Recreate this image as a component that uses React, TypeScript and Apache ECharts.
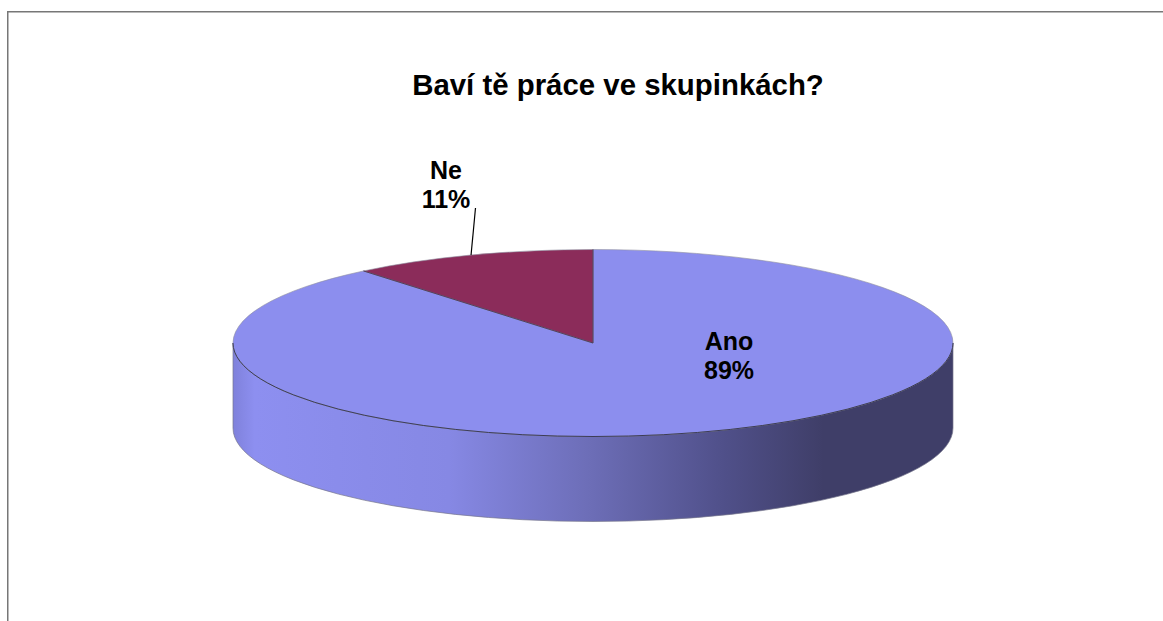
import React, { useEffect, useRef } from "react";
import * as echarts from "echarts";

const categories = ["Ano", "Ne"];
const values = [89, 11];
const sliceColors = ["#8C8EEE", "#8B2C5A"];
const titleText = "Baví tě práce ve skupinkách?";

const CX = 593;
const CY = 343;
const RX = 360;
const RY = 93.5;
const DEPTH = 85;
const FONT = '"Liberation Sans", Arial, sans-serif';
const total = values.reduce((a, b) => a + b, 0);

const pt = (deg: number, dy = 0) => {
  const r = (deg * Math.PI) / 180;
  return [CX + RX * Math.sin(r), CY + dy - RY * Math.cos(r)];
};

const labelSpots: Record<string, { x: number; y: number; leaderEnd?: number[] }> = {
  Ano: { x: 729, y: 355 },
  Ne: { x: 446, y: 184, leaderEnd: [475.5, 208] },
};

function renderItem(params: any) {
  const i = params.dataIndex;
  const start = (values.slice(0, i).reduce((a, b) => a + b, 0) / total) * 360;
  const end = start + (values[i] / total) * 360;
  const children: any[] = [];

  // Side wall: only the part of the slice on the front half of the ellipse.
  const fs = Math.max(start, 90);
  const fe = Math.min(end, 270);
  const hasFront = fe > fs;
  if (hasFront) {
    const a = pt(fs);
    const b = pt(fe);
    const c = pt(fe, DEPTH);
    const d = pt(fs, DEPTH);
    children.push({
      type: "path",
      shape: {
        pathData: `M${a[0]} ${a[1]}A${RX} ${RY} 0 0 1 ${b[0]} ${b[1]}L${c[0]} ${c[1]}A${RX} ${RY} 0 0 0 ${d[0]} ${d[1]}Z`,
      },
      style: {
        fill: new echarts.graphic.LinearGradient(0, 0, 1, 0, [
          { offset: 0, color: "#7F81DB" },
          { offset: 0.03, color: "#8D8FF0" },
          { offset: 0.3, color: "#8688E4" },
          { offset: 0.5, color: "#6C6DB6" },
          { offset: 0.68, color: "#50508A" },
          { offset: 0.82, color: "#3F3E68" },
          { offset: 1, color: "#3F3E68" },
        ]),
        stroke: "#77778c",
        lineWidth: 0.7,
      },
    });
  }

  // Top face.
  const s = pt(start);
  const e = pt(end);
  const large = end - start > 180 ? 1 : 0;
  children.push({
    type: "path",
    shape: {
      pathData: `M${CX} ${CY}L${s[0]} ${s[1]}A${RX} ${RY} 0 ${large} 1 ${e[0]} ${e[1]}Z`,
    },
    style: { fill: sliceColors[i], stroke: "#8f8fa0", lineWidth: 0.6 },
  });
  if (hasFront) {
    const a = pt(fs);
    const b = pt(fe);
    children.push({
      type: "path",
      shape: { pathData: `M${a[0]} ${a[1]}A${RX} ${RY} 0 0 1 ${b[0]} ${b[1]}` },
      style: { fill: "none", stroke: "#33334d", lineWidth: 0.9 },
    });
  }
  // Dark radial seams between slices.
  if (start > 0) {
    children.push({
      type: "polyline",
      shape: { points: [s, [CX, CY], e] },
      style: { fill: "none", stroke: "#3f3050", lineWidth: 0.8 },
    });
  }

  const spot = labelSpots[categories[i]];
  if (spot.leaderEnd) {
    const m = pt((start + end) / 2);
    children.push({
      type: "line",
      shape: { x1: m[0], y1: m[1], x2: spot.leaderEnd[0], y2: spot.leaderEnd[1] },
      style: { stroke: "#000", lineWidth: 1.2 },
    });
  }
  children.push({
    type: "text",
    x: spot.x,
    y: spot.y,
    style: {
      text: `${categories[i]}\n${Math.round((values[i] / total) * 100)}%`,
      font: `bold 25px ${FONT}`,
      fill: "#000",
      align: "center",
      verticalAlign: "middle",
      lineHeight: 29,
    },
  });
  return { type: "group", children };
}

export default function App() {
  const ref = useRef<HTMLDivElement>(null);
  useEffect(() => {
    document.body.style.margin = "0";
    const chart = echarts.init(ref.current!, undefined, { renderer: "svg" });
    chart.setOption({
      animation: false,
      backgroundColor: "#fff",
      title: {
        text: titleText,
        left: 613,
        top: 65,
        textAlign: "center",
        textStyle: { fontFamily: FONT, fontWeight: "bold", fontSize: 29.4, color: "#000" },
      },
      graphic: [
        { type: "rect", shape: { x: 7, y: 11, width: 1156, height: 1.5 }, style: { fill: "#777" } },
        { type: "rect", shape: { x: 7, y: 11, width: 1.5, height: 610 }, style: { fill: "#777" } },
      ],
      series: [
        {
          type: "custom",
          coordinateSystem: "none",
          silent: true,
          renderItem,
          data: categories.map((name, i) => ({ name, value: values[i] })),
        },
      ],
    });
    return () => chart.dispose();
  }, []);
  return <div ref={ref} style={{ width: 1163, height: 621 }} />;
}
